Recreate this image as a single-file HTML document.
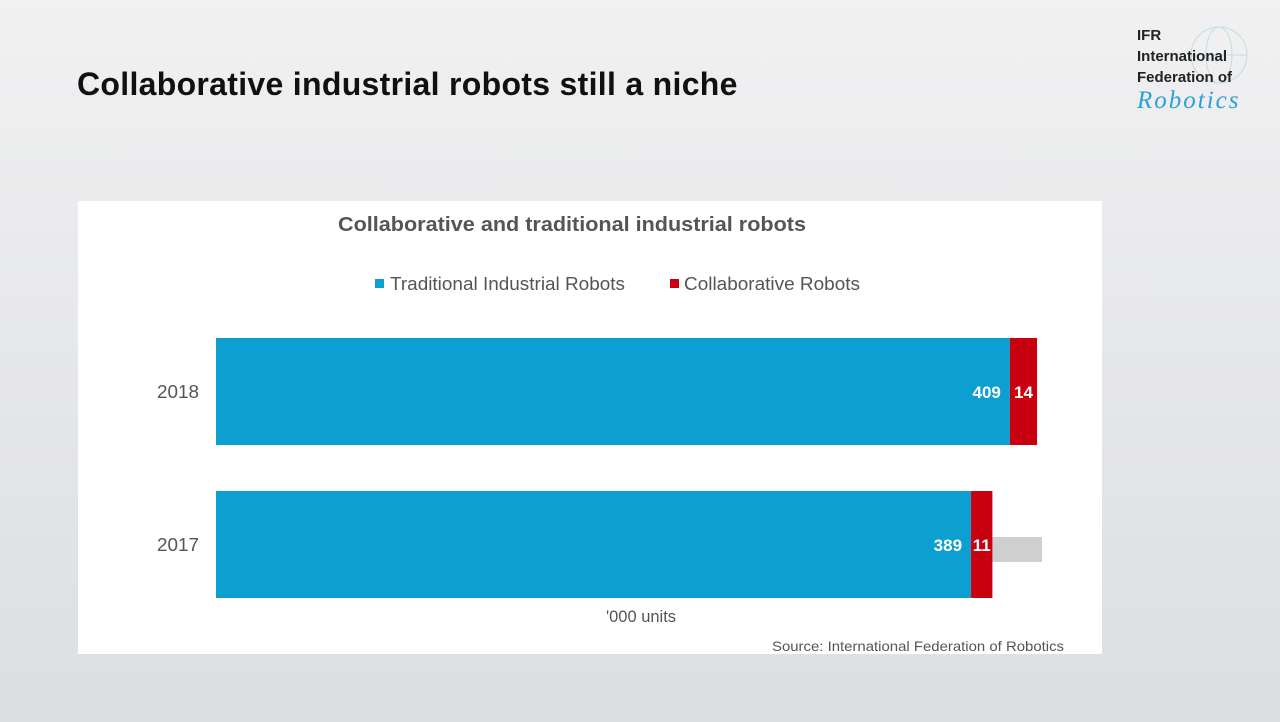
<!DOCTYPE html>
<html><head><meta charset="utf-8"><style>
body{margin:0;width:1280px;height:722px;overflow:hidden;background:linear-gradient(180deg,#f1f1f2 0%,#e4e5e7 60%,#dcdee1 100%);font-family:"Liberation Sans",sans-serif;position:relative}
.t{position:absolute}
</style></head><body>
<div class="t" style="left:77px;top:66px;font-size:32px;font-weight:bold;color:#111;letter-spacing:0.3px">Collaborative industrial robots still a niche</div>
<div class="t" style="left:1137px;top:25px;width:135px;height:95px">
<svg width="135" height="95" style="position:absolute;left:0;top:0"><circle cx="82" cy="30" r="28" fill="none" stroke="#c4dbe8" stroke-width="1"/><ellipse cx="82" cy="30" rx="13" ry="28" fill="none" stroke="#c4dbe8"/><line x1="54" y1="30" x2="110" y2="30" stroke="#c4dbe8"/></svg>
<div style="position:absolute;left:0;top:0;font-size:15px;font-weight:bold;color:#222;line-height:21px">IFR<br>International<br>Federation of</div>
<div style="position:absolute;left:0;top:62px;font-size:25px;font-style:italic;color:#2aa0d8;font-family:'Liberation Serif',serif;letter-spacing:2px">Robotics</div>
</div>
<div class="t" style="left:78px;top:201px;width:1024px;height:453px;background:#fff">
<svg width="1024" height="453" id="svg"></svg>
</div>
<script>
const categories=["2018","2017"];
const traditional=[409,389];
const collaborative=[14,11];
const NS="http://www.w3.org/2000/svg";
const svg=document.getElementById('svg');
const x0=138,scale=1.941;
const xs=v=>x0+v*scale;
const rowY=[137,290],bh=107;
function el(tag,attrs,text){const e=document.createElementNS(NS,tag);for(const k in attrs)e.setAttribute(k,attrs[k]);if(text!==undefined)e.textContent=text;svg.appendChild(e);return e;}
let e;
e=el('rect',{x:913,y:336,width:51,height:25,fill:'#cfcfcf'});


e=el('text',{x:260,y:30,'font-size':20.5,'font-weight':'bold',fill:'#555',textLength:468,lengthAdjust:'spacingAndGlyphs'},'Collaborative and traditional industrial robots');


e=el('rect',{x:297,y:78,width:9,height:9,fill:'#0d9fd0'});


e=el('text',{x:312,y:89,'font-size':18.5,fill:'#555',textLength:235,lengthAdjust:'spacingAndGlyphs'},'Traditional Industrial Robots');


e=el('rect',{x:592,y:78,width:9,height:9,fill:'#c8000f'});


e=el('text',{x:606,y:89,'font-size':18.5,fill:'#555',textLength:176,lengthAdjust:'spacingAndGlyphs'},'Collaborative Robots');


categories.forEach((c,i)=>{
  const y=rowY[i];
  let b=el('rect',{x:xs(0),y:y,width:xs(traditional[i])-xs(0),height:bh,fill:'#0d9fd0'});
  
  
  let r=el('rect',{x:xs(traditional[i]),y:y,width:xs(traditional[i]+collaborative[i])-xs(traditional[i]),height:bh,fill:'#c8000f'});
  
  
  let l=el('text',{x:xs(traditional[i])-9,y:y+60,'text-anchor':'end','font-size':17,'font-weight':'bold',fill:'#fff'},traditional[i]);
  
  
  let l2=el('text',{x:(xs(traditional[i])+xs(traditional[i]+collaborative[i]))/2,y:y+60,'text-anchor':'middle','font-size':17,'font-weight':'bold',fill:'#fff'},collaborative[i]);
  
  
  let cl=el('text',{x:79,y:y+60,'font-size':18,fill:'#555',textLength:42,lengthAdjust:'spacingAndGlyphs'},c);
  
  
});
e=el('text',{x:563,y:421,'text-anchor':'middle','font-size':16.5,fill:'#555'},"'000 units");


e=el('text',{x:694,y:450,'font-size':14,fill:'#555',textLength:292,lengthAdjust:'spacingAndGlyphs'},'Source: International Federation of Robotics');


</script>
</body></html>
